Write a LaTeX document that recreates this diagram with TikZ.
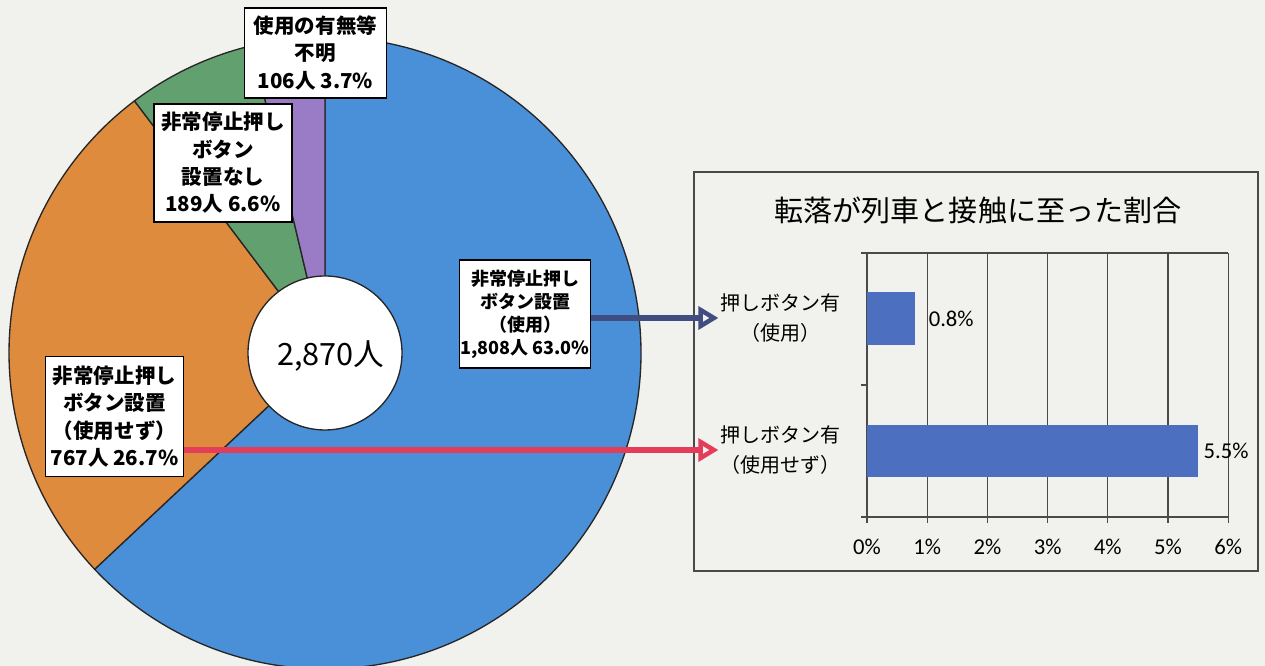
\documentclass[tikz,border=0pt]{standalone}
\usepackage{fontspec}
\setmainfont{Noto Sans CJK JP}
\newfontfamily\numfont{Carlito}
\usepackage{xcolor}
\usepackage{tikz}
\usetikzlibrary{calc,arrows.meta}
\definecolor{paper}{HTML}{F1F1ED}
\definecolor{pieblue}{HTML}{4A90D9}
\definecolor{pieorange}{HTML}{DF8B3D}
\definecolor{piegreen}{HTML}{62A070}
\definecolor{piepurple}{HTML}{9A7CC6}
\definecolor{barblue}{HTML}{4C6FBF}
\definecolor{navy}{HTML}{414C80}
\definecolor{rose}{HTML}{E43D5A}
\definecolor{rule}{HTML}{4A4A4A}
\tikzset{
  slice/.style={draw=black!85, line width=1pt, line join=round},
  hole/.style={circle, draw=black!85, line width=1pt, fill=white, inner sep=0pt,
    font=\fontsize{23}{26}\selectfont},
  lab/.style={draw=black, line width=0.8pt, fill=white, align=center, inner sep=1pt,
    font=\bfseries\fontsize{15.4}{20.5}\selectfont},
  labs/.style={lab, font=\bfseries\fontsize{13.5}{17.3}\selectfont},
  grid/.style={draw=rule, line width=0.9pt},
  frame/.style={draw=rule, line width=1pt},
  bar/.style={fill=barblue},
  catlab/.style={align=center, inner sep=1pt, font=\fontsize{15}{22.5}\selectfont},
  axlab/.style={font=\numfont\fontsize{17}{20}\selectfont, inner sep=1pt},
  ptr/.style={line width=4pt, -{Triangle[open, length=15pt, width=17pt, line width=3.4pt]}},
}

\begin{document}
\begin{tikzpicture}[x=0.75pt,y=0.75pt]
  \fill[paper] (0,0) rectangle (1265,666);
  \useasboundingbox (0,0) rectangle (1265,666);

  % pie
  \def\r{316}
  \coordinate (O) at (325,313);
  \filldraw[slice, fill=pieblue] (O) -- ++(90:\r) arc[start angle=90, end angle=-136.8, radius=\r] -- cycle;
  \filldraw[slice, fill=pieorange] (O) -- ++(-136.8:\r) arc[start angle=-136.8, end angle=-232.92, radius=\r] -- cycle;
  \filldraw[slice, fill=piegreen] (O) -- ++(-232.92:\r) arc[start angle=-232.92, end angle=-256.68, radius=\r] -- cycle;
  \filldraw[slice, fill=piepurple] (O) -- ++(-256.68:\r) arc[start angle=-256.68, end angle=-270, radius=\r] -- cycle;
  \node[hole, minimum size=115.5pt, text depth=0pt] (tot) at (O) {\hspace*{9pt}2,870人};

  \node[lab, minimum width=107pt, minimum height=67.5pt] (unk) at (315.5,613)
    {使用の有無等\\不明\\106人 3.7\%};
  \node[lab, minimum width=103.5pt, minimum height=88.5pt] (none) at (223,503)
    {非常停止押し\\ボタン\\設置なし\\189人 6.6\%};
  \node[labs, minimum width=94.5pt, minimum height=81pt] (used) at (525,352)
    {非常停止押し\\ボタン設置\\（使用）\\1,808人 63.0\%};
  \node[lab, minimum width=104pt, minimum height=90.5pt] (unused) at (114.5,249.5)
    {非常停止押し\\ボタン設置\\（使用せず）\\767人 26.7\%};

  % bar chart
  \draw[frame] (694,95) rectangle (1258,494);
  \node[font=\fontsize{21.8}{26}\selectfont] (title) at (978,456) {転落が列車と接触に至った割合};

  \def\ux{60.2}
  \coordinate (P) at (867,149);
  \foreach \i in {1,...,6}
    \draw[grid] ({867+\i*\ux},149) -- ({867+\i*\ux},413);
  \draw[grid] (867,413) -- ({867+6*\ux},413);
  \draw[grid] (P) -- (867,413);
  \draw[grid] (P) -- ({867+6*\ux},149);
  \foreach \y in {149,281,413}
    \draw[grid] (861,\y) -- (867,\y);
  \foreach \i in {0,...,6}{
    \draw[grid] ({867+\i*\ux},149) -- ({867+\i*\ux},143);
    \node[axlab] (ax\i) at ({867+\i*\ux},119) {\i\%};
  }

  \fill[bar] (867,321) rectangle ({867+0.8*\ux},374);
  \fill[bar] (867,189) rectangle ({867+5.5*\ux},241);
  \node[axlab, anchor=west] (v1) at ({867+0.8*\ux+12},347.5) {0.8\%};
  \node[axlab, anchor=west] (v2) at ({867+5.5*\ux+4},215) {5.5\%};

  \node[catlab] (cat1) at (780,348) {押しボタン有\\（使用）};
  \node[catlab] (cat2) at (780,216) {押しボタン有\\（使用せず）};

  \draw[ptr, navy] (used.east |- cat1.west) -- (cat1.west);
  \draw[ptr, rose] (unused.east |- cat2.west) -- (cat2.west);
\end{tikzpicture}
\end{document}
